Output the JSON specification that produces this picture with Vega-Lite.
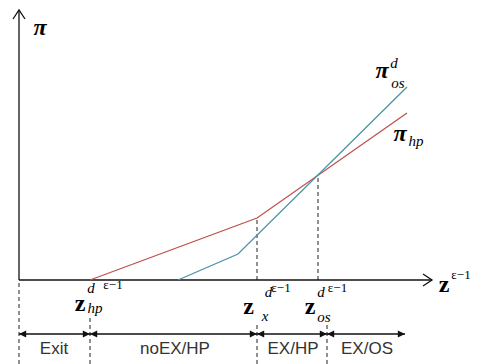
{
  "$schema": "https://vega.github.io/schema/vega-lite/v6.json",
  "width": 478,
  "height": 364,
  "padding": 0,
  "autosize": "none",
  "background": "white",
  "config": {"view": {"stroke": null}},
  "datasets": {
    "axes": [
      {"x": 0, "y": 0, "x2": 0, "y2": 270},
      {"x": 0, "y": 0, "x2": 413, "y2": 0}
    ],
    "axisHeads": [
      {"x": 0, "y": 270, "ang": 0},
      {"x": 413, "y": 0, "ang": 90}
    ],
    "curves": [
      {"series": "hp", "ord": 1, "x": 71, "y": 0},
      {"series": "hp", "ord": 2, "x": 238, "y": 62},
      {"series": "hp", "ord": 3, "x": 388, "y": 167},
      {"series": "os", "ord": 1, "x": 159, "y": 0},
      {"series": "os", "ord": 2, "x": 219, "y": 26},
      {"series": "os", "ord": 3, "x": 388, "y": 193}
    ],
    "dashes": [
      {"x": 238, "y": 0, "y2": 62},
      {"x": 299, "y": 0, "y2": 105},
      {"x": 0, "y": -84, "y2": 0},
      {"x": 71, "y": -84, "y2": -35},
      {"x": 238, "y": -84, "y2": -43},
      {"x": 308, "y": -84, "y2": -43}
    ],
    "span": [
      {"x": 0, "x2": 386, "y": -54}
    ],
    "spanHeads": [
      {"x": 0, "y": -54, "dir": "left"},
      {"x": 71, "y": -54, "dir": "right"},
      {"x": 71, "y": -54, "dir": "left"},
      {"x": 238, "y": -54, "dir": "right"},
      {"x": 238, "y": -54, "dir": "left"},
      {"x": 308, "y": -54, "dir": "right"},
      {"x": 308, "y": -54, "dir": "left"},
      {"x": 386, "y": -54, "dir": "right"}
    ],
    "piSym": [
      {"x": 21, "y": 252, "t": "π"},
      {"x": 363, "y": 209, "t": "π"},
      {"x": 381, "y": 146, "t": "π"}
    ],
    "zSym": [
      {"x": 425, "y": -5, "t": "z"},
      {"x": 61, "y": -24, "t": "z"},
      {"x": 229.5, "y": -27, "t": "z"},
      {"x": 291, "y": -27, "t": "z"}
    ],
    "subs": [
      {"x": 379, "y": 197, "t": "os"},
      {"x": 397, "y": 139, "t": "hp"},
      {"x": 76, "y": -28, "t": "hp"},
      {"x": 246, "y": -36, "t": "x"},
      {"x": 305, "y": -37, "t": "os"},
      {"x": 375, "y": 217, "t": "d"},
      {"x": 72, "y": -8, "t": "d"},
      {"x": 249.5, "y": -12, "t": "d"},
      {"x": 302, "y": -12, "t": "d"}
    ],
    "sups": [
      {"x": 442, "y": 5, "t": "ε−1"},
      {"x": 94, "y": -5, "t": "ε−1"},
      {"x": 262, "y": -8, "t": "ε−1"},
      {"x": 318.5, "y": -8, "t": "ε−1"}
    ],
    "regions": [
      {"x": 35, "y": -69, "t": "Exit"},
      {"x": 156, "y": -69, "t": "noEX/HP"},
      {"x": 274, "y": -69, "t": "EX/HP"},
      {"x": 348, "y": -69, "t": "EX/OS"}
    ]
  },
  "encoding": {
    "x": {"field": "x", "type": "quantitative", "scale": {"domain": [-19, 459], "nice": false, "zero": false}, "axis": null},
    "y": {"field": "y", "type": "quantitative", "scale": {"domain": [-84, 280], "nice": false, "zero": false}, "axis": null}
  },
  "layer": [
    {
      "data": {"name": "dashes"},
      "mark": {"type": "rule", "color": "#222", "strokeWidth": 1, "strokeDash": [4, 3]},
      "encoding": {"y2": {"field": "y2"}}
    },
    {
      "data": {"name": "axes"},
      "mark": {"type": "rule", "color": "#111", "strokeWidth": 1.3},
      "encoding": {"x2": {"field": "x2"}, "y2": {"field": "y2"}}
    },
    {
      "data": {"name": "axisHeads"},
      "mark": {"type": "point", "shape": "M-1,1.5L0,0L1,1.5", "filled": false, "size": 144, "stroke": "#111", "strokeWidth": 1.3, "opacity": 1},
      "encoding": {"angle": {"field": "ang", "type": "quantitative", "scale": null}}
    },
    {
      "data": {"name": "curves"},
      "mark": {"type": "line", "strokeWidth": 1.3},
      "encoding": {
        "color": {"field": "series", "type": "nominal", "scale": {"domain": ["hp", "os"], "range": ["#c0504d", "#4b93a6"]}, "legend": null},
        "order": {"field": "ord", "type": "quantitative"}
      }
    },
    {
      "data": {"name": "span"},
      "mark": {"type": "rule", "color": "#111", "strokeWidth": 1.5},
      "encoding": {"x2": {"field": "x2"}}
    },
    {
      "data": {"name": "spanHeads"},
      "mark": {"type": "point", "filled": true, "size": 52, "color": "#111", "opacity": 1},
      "encoding": {
        "shape": {"field": "dir", "type": "nominal", "scale": {"domain": ["right", "left"], "range": ["M0,0L-2,-1L-2,1Z", "M0,0L2,-1L2,1Z"]}, "legend": null}
      }
    },
    {
      "data": {"name": "piSym"},
      "mark": {"type": "text", "font": "Liberation Serif", "fontSize": 24, "fontWeight": "bold", "fontStyle": "italic", "color": "#000", "align": "center", "baseline": "middle"},
      "encoding": {"text": {"field": "t"}}
    },
    {
      "data": {"name": "zSym"},
      "mark": {"type": "text", "font": "Liberation Serif", "fontSize": 24, "fontWeight": "bold", "color": "#000", "align": "center", "baseline": "middle"},
      "encoding": {"text": {"field": "t"}}
    },
    {
      "data": {"name": "subs"},
      "mark": {"type": "text", "font": "Liberation Serif", "fontSize": 15, "fontStyle": "italic", "color": "#000", "align": "center", "baseline": "middle"},
      "encoding": {"text": {"field": "t"}}
    },
    {
      "data": {"name": "sups"},
      "mark": {"type": "text", "font": "Liberation Serif", "fontSize": 13, "color": "#000", "align": "center", "baseline": "middle"},
      "encoding": {"text": {"field": "t"}}
    },
    {
      "data": {"name": "regions"},
      "mark": {"type": "text", "font": "Liberation Sans", "fontSize": 17, "color": "#333", "align": "center", "baseline": "middle"},
      "encoding": {"text": {"field": "t"}}
    }
  ]
}
